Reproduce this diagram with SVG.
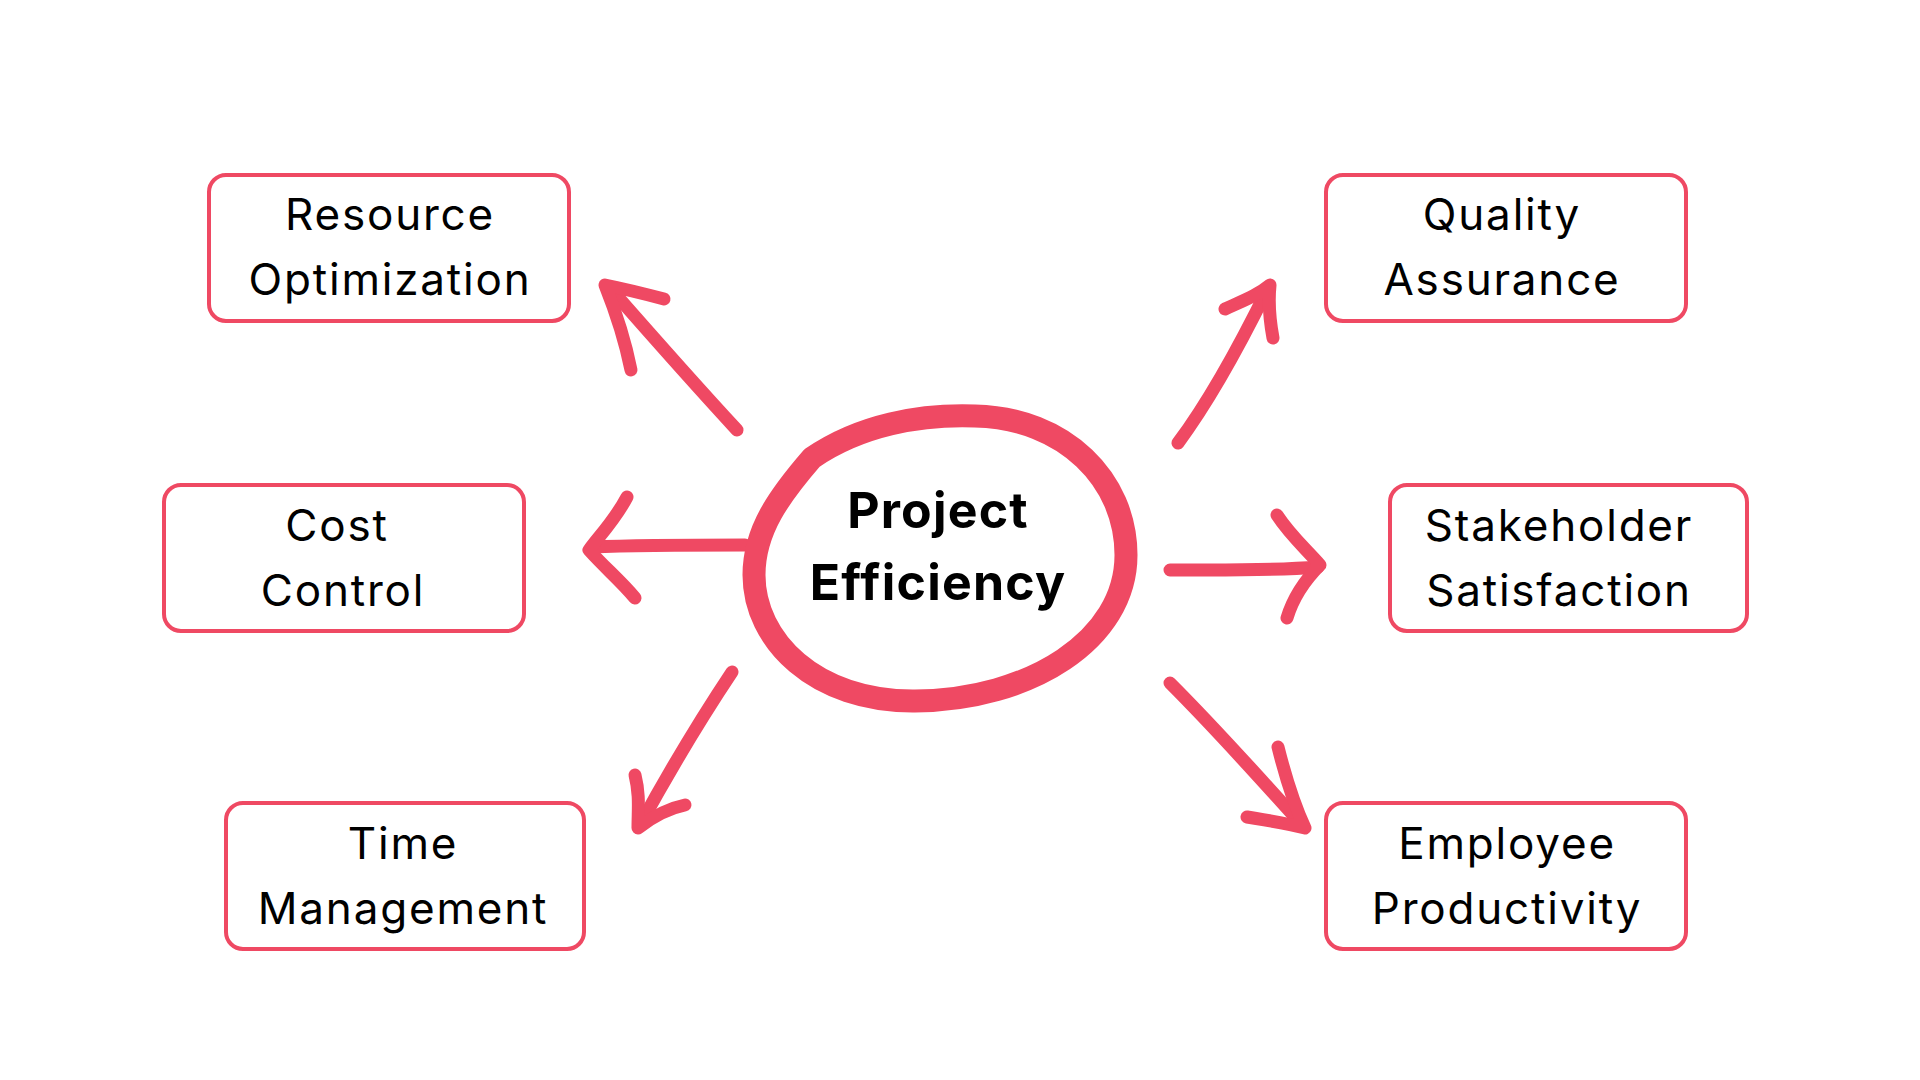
<svg xmlns="http://www.w3.org/2000/svg" width="1920" height="1080" viewBox="0 0 1920 1080">
<style>
.box{fill:#fff;stroke:#EF4963;stroke-width:4}
.lbl{font-family:Inter,"Noto Sans",sans-serif;font-size:44px;letter-spacing:1.8px;fill:#000;text-anchor:middle}
.ttl{font-family:Inter,"Noto Sans",sans-serif;font-size:50px;letter-spacing:1.2px;font-weight:700;fill:#000;text-anchor:middle}
.arr{fill:none;stroke:#EF4963;stroke-width:13;stroke-linecap:round;stroke-linejoin:round}
</style>
<rect width="1920" height="1080" fill="#fff"/>
<g id="connectors">
<g id="arrow-resource">
<path class="arr" d="M737,430 C700,390 660,345 610,288"/>
<path class="arr" d="M664,299 C645,294 625,289 605,285 C615,310 625,340 631,370"/>
</g>
<g id="arrow-cost">
<path class="arr" d="M745,545 C690,545 640,545 592,547"/>
<path class="arr" d="M627,497 C615,520 600,535 589,550 C605,568 620,580 635,598"/>
</g>
<g id="arrow-time">
<path class="arr" d="M732,672 C700,720 670,770 640,825"/>
<path class="arr" d="M635,775 C640,795 638,810 638,828 C655,815 670,808 685,805"/>
</g>
<g id="arrow-quality">
<path class="arr" d="M1178,443 C1210,400 1240,345 1268,288"/>
<path class="arr" d="M1225,309 C1245,300 1258,295 1270,285 C1268,305 1270,322 1273,338"/>
</g>
<g id="arrow-stakeholder">
<path class="arr" d="M1170,570 C1220,570 1270,571 1318,567"/>
<path class="arr" d="M1277,515 C1290,535 1305,548 1320,565 C1305,580 1293,598 1287,618"/>
</g>
<g id="arrow-employee">
<path class="arr" d="M1170,683 C1215,728 1260,778 1302,825"/>
<path class="arr" d="M1278,747 C1285,775 1292,800 1305,828 C1285,823 1265,820 1247,817"/>
</g>
</g>
<g id="node-center">
<path d="M812,458 C860,425 920,414 975,416 C1065,418 1126,480 1126,555 C1126,640 1030,700 915,701 C815,702 754,640 754,575 C754,530 780,495 812,458 Z" fill="none" stroke="#EF4963" stroke-width="23" stroke-linejoin="round"/>
<text class="ttl" x="938" y="528">Project</text>
<text class="ttl" x="938" y="600">Efficiency</text>
</g>
<g id="node-resource">
<rect class="box" x="209" y="175" width="360" height="146" rx="17"/>
<text class="lbl" x="390" y="230">Resource</text>
<text class="lbl" x="390" y="295">Optimization</text>
</g>
<g id="node-quality">
<rect class="box" x="1326" y="175" width="360" height="146" rx="17"/>
<text class="lbl" x="1502" y="230">Quality</text>
<text class="lbl" x="1502" y="295">Assurance</text>
</g>
<g id="node-cost">
<rect class="box" x="164" y="485" width="360" height="146" rx="17"/>
<text class="lbl" x="337" y="541">Cost</text>
<text class="lbl" x="343" y="606">Control</text>
</g>
<g id="node-stakeholder">
<rect class="box" x="1390" y="485" width="357" height="146" rx="17"/>
<text class="lbl" x="1559" y="541">Stakeholder</text>
<text class="lbl" x="1559" y="606">Satisfaction</text>
</g>
<g id="node-time">
<rect class="box" x="226" y="803" width="358" height="146" rx="17"/>
<text class="lbl" x="403" y="859">Time</text>
<text class="lbl" x="403" y="924">Management</text>
</g>
<g id="node-employee">
<rect class="box" x="1326" y="803" width="360" height="146" rx="17"/>
<text class="lbl" x="1507" y="859">Employee</text>
<text class="lbl" x="1507" y="924">Productivity</text>
</g>
</svg>
